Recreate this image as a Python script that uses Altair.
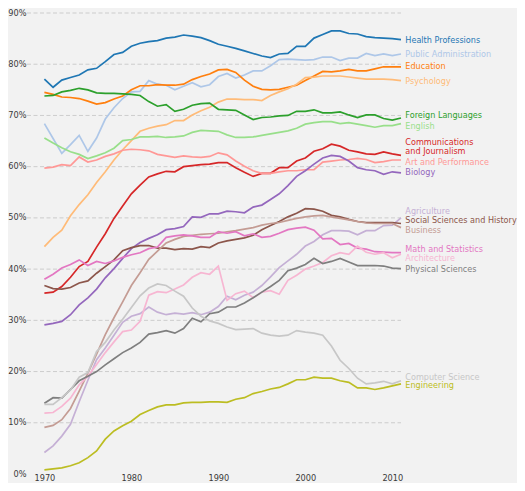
import altair as alt
import pandas as pd

years = list(range(1970, 2012))

health_professions = [77.1, 75.5, 76.9, 77.4, 77.9, 78.9, 79.2, 80.5, 81.9, 82.3,
                      83.5, 84.1, 84.4, 84.6, 85.1, 85.3, 85.7, 85.5, 85.2, 84.6,
                      83.9, 83.5, 83.1, 82.6, 82.1, 81.6, 81.3, 82.0, 82.1, 83.5,
                      83.5, 85.1, 85.8, 86.5, 86.5, 86.0, 85.9, 85.4, 85.2, 85.1,
                      85.0, 84.8]
public_administration = [68.4, 65.5, 62.6, 64.3, 66.1, 63.0, 65.6, 69.3, 71.5, 73.3,
                         74.6, 74.7, 76.8, 76.1, 75.9, 75.0, 75.7, 76.4, 75.6, 76.0,
                         77.6, 78.2, 77.3, 77.9, 78.7, 78.7, 79.7, 80.9, 81.0, 80.9,
                         80.8, 80.9, 81.4, 81.4, 80.7, 81.2, 81.2, 82.1, 81.7, 82.0,
                         81.7, 82.0]
education = [74.5, 74.1, 73.6, 73.5, 73.3, 72.8, 72.2, 72.5, 73.2, 73.8,
             75.0, 75.8, 75.8, 76.0, 75.9, 75.9, 76.1, 77.0, 77.6, 78.1,
             78.9, 79.0, 78.4, 76.9, 75.7, 75.1, 75.0, 75.1, 75.5, 75.9,
             76.8, 77.7, 78.6, 78.5, 78.7, 79.0, 78.7, 78.7, 79.1, 79.5,
             79.5, 79.5]
psychology = [44.4, 46.2, 47.6, 50.4, 52.6, 54.5, 56.9, 59.0, 61.3, 63.3,
              65.1, 66.9, 67.5, 67.9, 68.2, 69.0, 69.0, 70.1, 70.9, 71.6,
              72.6, 73.2, 73.2, 73.1, 73.1, 72.9, 73.9, 74.6, 75.2, 76.1,
              77.4, 77.5, 77.7, 77.7, 77.7, 77.5, 77.3, 77.1, 77.1, 77.1,
              77.0, 76.8]
foreign_languages = [73.8, 73.9, 74.6, 74.9, 75.3, 75.0, 74.4, 74.3, 74.3, 74.2,
                     74.1, 73.9, 72.7, 71.8, 72.1, 70.8, 71.2, 72.0, 72.3, 72.4,
                     71.2, 71.1, 71.0, 70.1, 69.2, 69.6, 69.7, 69.9, 70.0, 70.8,
                     70.8, 71.1, 70.5, 70.5, 70.7, 70.1, 69.6, 70.1, 70.1, 69.4,
                     69.1, 69.5]
english = [65.6, 64.6, 63.7, 62.9, 62.4, 61.6, 62.1, 62.7, 63.6, 65.1,
           65.3, 65.8, 65.8, 65.9, 65.7, 65.8, 66.0, 66.7, 67.1, 67.0,
           66.9, 66.2, 65.7, 65.7, 65.8, 66.1, 66.4, 66.7, 67.0, 67.5,
           68.3, 68.6, 68.8, 68.8, 68.4, 68.6, 68.3, 68.0, 67.7, 68.0,
           68.0, 68.4]
communications = [35.3, 35.5, 36.6, 38.4, 40.5, 41.5, 44.3, 46.9, 49.9, 52.3,
                  54.7, 56.4, 58.0, 58.6, 59.1, 59.0, 60.0, 60.2, 60.4, 60.5,
                  60.8, 60.8, 59.8, 58.9, 58.1, 58.7, 58.7, 59.8, 59.8, 61.1,
                  61.7, 63.0, 63.5, 64.4, 64.0, 63.2, 62.9, 62.5, 62.4, 62.9,
                  62.5, 62.2]
art_performance = [59.7, 59.9, 60.4, 60.2, 61.9, 60.9, 61.3, 62.0, 62.5, 63.2,
                   63.4, 63.3, 63.1, 62.4, 62.1, 61.8, 62.1, 61.9, 61.8, 62.0,
                   62.7, 62.3, 61.1, 60.1, 59.2, 58.7, 58.7, 59.0, 59.2, 59.2,
                   59.4, 59.4, 60.9, 61.1, 61.3, 61.4, 61.6, 61.4, 60.8, 61.0,
                   61.3, 61.3]
biology = [29.1, 29.4, 29.8, 31.1, 33.0, 34.4, 36.1, 38.3, 40.1, 42.1,
           44.0, 45.2, 46.0, 46.7, 47.7, 47.9, 48.3, 50.2, 50.1, 50.8,
           50.8, 51.3, 51.2, 51.0, 52.1, 52.5, 53.6, 54.7, 56.3, 58.1,
           59.2, 60.5, 61.7, 62.2, 62.0, 61.1, 59.8, 59.4, 59.2, 58.5,
           59.0, 58.8]
agriculture = [4.2, 5.5, 7.4, 9.7, 14.1, 18.3, 22.3, 24.6, 27.1, 29.6,
               30.8, 31.3, 32.6, 31.6, 31.1, 31.4, 31.2, 31.5, 31.1, 31.6,
               32.7, 34.7, 34.0, 34.9, 35.5, 36.8, 38.5, 40.3, 41.6, 42.9,
               44.5, 45.4, 46.7, 47.5, 47.5, 47.4, 46.7, 47.5, 47.5, 48.5,
               48.6, 50.0]
social_sciences = [36.8, 36.2, 36.1, 36.4, 37.3, 37.7, 39.2, 40.5, 41.8, 43.6,
                   44.2, 44.6, 44.6, 44.1, 44.1, 43.8, 44.0, 43.9, 44.4, 44.2,
                   45.1, 45.5, 45.8, 46.1, 46.6, 47.7, 48.5, 49.3, 50.2, 50.9,
                   51.8, 51.7, 51.3, 50.5, 50.2, 49.7, 49.3, 49.1, 49.1, 49.1,
                   49.1, 48.9]
business = [9.1, 9.5, 10.6, 12.8, 16.2, 19.7, 23.4, 27.2, 30.5, 33.6,
            36.8, 39.3, 41.9, 43.5, 45.1, 45.8, 46.4, 46.6, 46.8, 46.9,
            47.0, 47.3, 47.5, 47.8, 48.1, 48.6, 48.9, 49.1, 49.5, 49.9,
            50.2, 50.4, 50.5, 50.2, 49.9, 49.6, 49.3, 49.0, 48.9, 48.9,
            48.9, 48.1]
math_statistics = [38.0, 39.0, 40.2, 40.9, 41.8, 40.7, 41.5, 41.1, 41.6, 42.3,
                   42.8, 43.2, 44.0, 44.3, 46.2, 46.5, 46.7, 46.5, 46.2, 46.2,
                   47.3, 47.0, 47.3, 46.5, 46.9, 46.2, 46.4, 47.0, 47.7, 48.0,
                   48.2, 47.6, 45.9, 46.0, 44.8, 45.0, 44.1, 43.9, 43.4, 43.3,
                   43.2, 43.2]
architecture = [11.9, 12.0, 13.2, 14.8, 17.4, 19.1, 21.4, 23.7, 25.8, 27.8,
                28.1, 29.8, 34.9, 35.6, 35.4, 36.1, 36.9, 38.4, 39.3, 39.0,
                40.6, 33.9, 35.2, 35.7, 34.4, 35.5, 35.8, 35.1, 37.8, 38.8,
                40.0, 40.6, 41.3, 42.6, 43.2, 42.9, 44.5, 43.3, 42.9, 43.2,
                42.2, 42.9]
physical_sciences = [13.8, 14.9, 14.8, 16.5, 18.2, 19.1, 20.0, 21.3, 22.5, 23.7,
                     24.6, 25.7, 27.3, 27.6, 28.0, 27.5, 28.4, 30.4, 29.7, 31.3,
                     31.6, 32.6, 32.6, 33.4, 34.4, 35.5, 36.6, 37.8, 39.7, 40.2,
                     40.9, 42.1, 41.1, 41.5, 42.1, 41.4, 40.7, 40.7, 40.7, 40.6,
                     40.2, 40.1]
computer_science = [13.6, 13.6, 14.9, 16.4, 18.9, 19.8, 23.9, 25.7, 28.1, 30.2,
                    32.5, 34.8, 36.3, 37.1, 36.8, 35.7, 34.7, 32.4, 30.8, 29.9,
                    29.4, 28.7, 28.2, 28.3, 28.4, 27.5, 27.1, 26.9, 27.1, 28.0,
                    27.7, 27.5, 27.1, 25.0, 22.2, 20.6, 18.7, 17.6, 17.8, 18.1,
                    17.6, 18.2]
engineering = [0.8, 1.0, 1.2, 1.6, 2.2, 3.2, 4.5, 6.8, 8.4, 9.4,
               10.3, 11.6, 12.4, 13.1, 13.5, 13.5, 13.9, 14.0, 14.0, 14.1,
               14.1, 14.0, 14.6, 14.9, 15.7, 16.1, 16.6, 16.9, 17.6, 18.4,
               18.4, 18.9, 18.7, 18.7, 18.2, 17.9, 16.8, 16.8, 16.5, 16.8,
               17.2, 17.6]

majors = ["Health Professions", "Public Administration", "Education", "Psychology",
          "Foreign Languages", "English", "Communications and Journalism",
          "Art and Performance", "Biology", "Agriculture",
          "Social Sciences and History", "Business", "Math and Statistics",
          "Architecture", "Physical Sciences", "Computer Science", "Engineering"]
label_texts = ["Health Professions", "Public Administration", "Education", "Psychology",
               "Foreign Languages", "English", "Communications\nand Journalism",
               "Art and Performance", "Biology", "Agriculture",
               "Social Sciences and History", "Business", "Math and Statistics",
               "Architecture", "Physical Sciences", "Computer Science", "Engineering"]
colors = ["#1f77b4", "#aec7e8", "#ff7f0e", "#ffbb78", "#2ca02c", "#98df8a",
          "#d62728", "#ff9896", "#9467bd", "#c5b0d5", "#8c564b", "#c49c94",
          "#e377c2", "#f7b6d2", "#7f7f7f", "#c7c7c7", "#bcbd22"]
series = [health_professions, public_administration, education, psychology,
          foreign_languages, english, communications, art_performance, biology,
          agriculture, social_sciences, business, math_statistics, architecture,
          physical_sciences, computer_science, engineering]
# small vertical nudges of the end labels (percentage points), to avoid overlaps
label_nudge = [-0.2, -0.2, -0.1, -0.2, 0.4, -0.6, 2.4, -0.5, -0.1, 1.2,
               0.4, -0.7, 0.6, -1.0, -0.2, 0.6, -0.5]

y_ticks = [0, 10, 20, 30, 40, 50, 60, 70, 80, 90]
grid_levels = [10, 20, 30, 40, 50, 60, 70, 80, 90]
x_ticks = [1970, 1980, 1990, 2000, 2010]

rows = []
for name, vals in zip(majors, series):
    for yr, v in zip(years, vals):
        rows.append({"year": yr, "major": name, "pct": v})
df = pd.DataFrame(rows)

labels_df = pd.DataFrame({
    "major": majors,
    "text": label_texts,
    "year": [2011.5] * len(majors),
    "pct": [s[-1] + n for s, n in zip(series, label_nudge)],
})
grid_df = pd.DataFrame({"level": grid_levels})

FONT = "DejaVu Sans"
xscale = alt.Scale(domain=[1968, 2011], nice=False, zero=False)
yscale = alt.Scale(domain=[0, 90], nice=False, zero=False)
cscale = alt.Scale(domain=majors, range=colors)

xaxis = alt.Axis(values=x_ticks, format="d", ticks=False, domain=False,
                 grid=False, title=None, labelFontSize=8.2, labelFont=FONT,
                 labelColor="#3a3a3a", labelPadding=0.5)
yaxis = alt.Axis(values=y_ticks, labelExpr="datum.value + '%'", ticks=False,
                 domain=False, grid=False, title=None, labelFontSize=8.2,
                 labelFont=FONT, labelColor="#3a3a3a", labelPadding=1)

grid = alt.Chart(grid_df).mark_rule(
    color="#000000", opacity=0.2, strokeWidth=0.8, strokeDash=[4, 2.5]
).encode(
    y=alt.Y("level:Q", scale=yscale, axis=yaxis),
    x=alt.datum(1968, scale=xscale, axis=xaxis),
    x2=alt.datum(2011),
)

lines = alt.Chart(df).mark_line(strokeWidth=1.7).encode(
    x=alt.X("year:Q", scale=xscale, axis=xaxis),
    y=alt.Y("pct:Q", scale=yscale, axis=yaxis),
    color=alt.Color("major:N", scale=cscale, legend=None),
    detail="major:N",
)

labels = alt.Chart(labels_df).mark_text(
    align="left", baseline="middle", fontSize=8.1, font=FONT,
    lineBreak="\n", lineHeight=9.3
).encode(
    x=alt.X("year:Q", scale=xscale, axis=xaxis),
    y=alt.Y("pct:Q", scale=yscale, axis=yaxis),
    text="text:N",
    color=alt.Color("major:N", scale=cscale, legend=None),
)

chart = alt.layer(grid, lines, labels).properties(
    width=374, height=461,
    autosize=alt.AutoSizeParams(type="none"),
    padding={"left": 19, "top": 5, "right": 116, "bottom": 9},
    background="#f2f2f2",
).configure_view(stroke=None)

chart.save("out.html", embed_options={"renderer": "svg", "actions": False})
